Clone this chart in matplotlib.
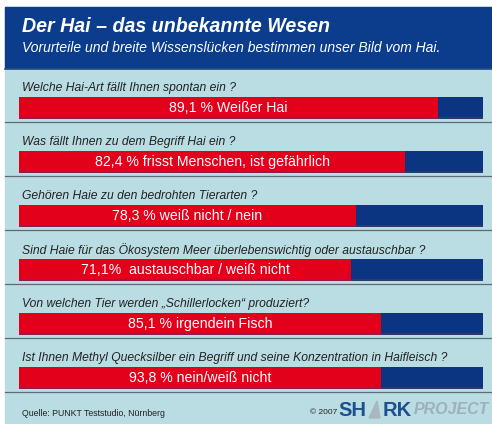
import matplotlib
matplotlib.use("Agg")
import matplotlib.pyplot as plt
from matplotlib.patches import Rectangle, Polygon

# Survey questions, answer labels and the bar lengths as drawn in the picture
questions = [
    "Welche Hai-Art fällt Ihnen spontan ein ?",
    "Was fällt Ihnen zu dem Begriff Hai ein ?",
    "Gehören Haie zu den bedrohten Tierarten ?",
    "Sind Haie für das Ökosystem Meer überlebenswichtig oder austauschbar ?",
    "Von welchen Tier werden „Schillerlocken“ produziert?",
    "Ist Ihnen Methyl Quecksilber ein Begriff und seine Konzentration in Haifleisch ?",
]
answers = [
    "89,1 % Weißer Hai",
    "82,4 % frisst Menschen, ist gefährlich",
    "78,3 % weiß nicht / nein",
    "71,1%  austauschbar / weiß nicht",
    "85,1 % irgendein Fisch",
    "93,8 % nein/weiß nicht",
]
bar_share = [90.3, 83.2, 72.6, 71.6, 78.0, 78.0]

title = "Der Hai – das unbekannte Wesen"
subtitle = "Vorurteile und breite Wissenslücken bestimmen unser Bild vom Hai."
source = "Quelle: PUNKT Teststudio, Nürnberg"

W, H = 492, 424
HEADER_BLUE = "#0c3c8c"
PANEL = "#b9dde3"
RED = "#e3001b"
BAR_BLUE = "#0b3580"
LINE = "#5d6b72"
FONT = "Liberation Sans"

fig = plt.figure(figsize=(W / 100, H / 100), dpi=100)
fig.patch.set_facecolor("white")

# background axes in pixel coordinates
bg = fig.add_axes([0, 0, 1, 1])
bg.set_xlim(0, W)
bg.set_ylim(H, 0)
bg.axis("off")

bg.add_patch(Rectangle((5, 7), W - 5, H - 7, color=PANEL, zorder=0))
bg.add_patch(Rectangle((5, 7), W - 5, 61, color=HEADER_BLUE, zorder=1))
bg.plot([5, W], [68.5, 68.5], color="#2a4d7a", lw=1.2, zorder=2)

bg.text(22, 26, title, color="white", fontsize=14.1, fontweight="bold",
        style="italic", family=FONT, va="center", zorder=3)
bg.text(22, 48, subtitle, color="white", fontsize=10, style="italic",
        family=FONT, va="center", zorder=3)

# bar axes: x in percent (0..100 spans x=19..483 px), y in pixels
bx0, bx1 = 19, 483
ax = fig.add_axes([0, 0, 1, 1])
ax.set_facecolor("none")
scale = (bx1 - bx0) / 100
ax.set_xlim(-bx0 / scale, (W - bx0) / scale)
ax.set_ylim(H, 0)
ax.axis("off")

row_top = 97
pitch = 54
bar_h = 22
centers = [row_top + bar_h / 2 + i * pitch for i in range(len(questions))]

ax.barh(centers, [100] * len(centers), height=bar_h, left=0, color=BAR_BLUE, zorder=2)
ax.barh(centers, bar_share, height=bar_h, left=0, color=RED, zorder=3)
# slight dark shadow along the bottom of each bar
ax.barh([c + bar_h / 2 - 0.8 for c in centers], [100] * len(centers), height=1.6,
        left=0, color="#4a3a6a", alpha=0.6, zorder=4)

for c, q, a, s in zip(centers, questions, answers, bar_share):
    ax.text(s / 2, c, a, color="white", fontsize=10.2, ha="center", va="center",
            family=FONT, zorder=5)
    bg.text(22, c - bar_h / 2 - 9, q, color="#222222", fontsize=8.75,
            style="italic", family=FONT, va="center", zorder=3)
    bg.plot([5, W], [c + bar_h / 2 + 3, c + bar_h / 2 + 3], color=LINE, lw=0.9, zorder=3)

# footer
bg.text(22, 413, source, color="#222222", fontsize=6.3, family=FONT,
        va="center", zorder=3)
bg.text(310, 413, "© 2007", color="#222222", fontsize=6, family=FONT,
        va="center", zorder=3)
bg.text(338, 410, "SH", color="#1f4f8f", fontsize=14.5, fontweight="bold",
        family=FONT, va="center", zorder=3)
bg.add_patch(Polygon([[369, 418], [377, 401], [380, 418]], closed=True,
                     color="#a9b7bf", zorder=3))
bg.text(412, 410, "RK", color="#1f4f8f", fontsize=14.5, fontweight="bold",
        family=FONT, va="center", ha="right", zorder=3)
bg.text(489, 410, "PROJECT", color="#9fb0ba", fontsize=11.5, fontweight="bold",
        style="italic", family=FONT, va="center", ha="right", zorder=3)

fig.savefig("out.png", dpi=100)
